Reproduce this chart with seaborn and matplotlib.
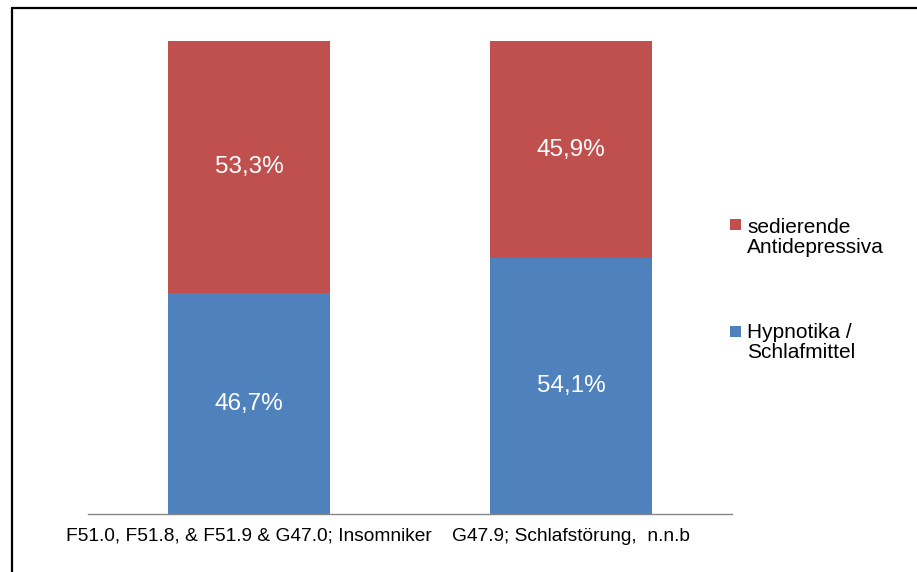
import pandas as pd
import seaborn as sns
import matplotlib.pyplot as plt
from matplotlib.lines import Line2D
from matplotlib.patches import Rectangle

# Data (percent of prescriptions)
categories = ["F51.0, F51.8, & F51.9 & G47.0; Insomniker", "G47.9; Schlafstörung,  n.n.b"]
hypnotika = [46.7, 54.1]
antidepressiva = [53.3, 45.9]
series_names = ["sedierende\nAntidepressiva", "Hypnotika /\nSchlafmittel"]

red = "#C0504D"
blue = "#4F81BD"

df = pd.DataFrame({"Kategorie": categories, "Hypnotika": hypnotika, "Antidepressiva": antidepressiva})
df["Gesamt"] = df["Hypnotika"] + df["Antidepressiva"]

sns.set_style("white")
plt.rcParams["font.family"] = ["Liberation Sans", "DejaVu Sans"]

W, H = 917, 572
fig = plt.figure(figsize=(W / 100, H / 100), dpi=100)
ax = fig.add_axes([88 / W, 1 - 514 / H, 644 / W, 473 / H])

# stacked bars: full height in red, blue part drawn over it
sns.barplot(data=df, x="Kategorie", y="Gesamt", color=red, saturation=1, width=0.503, linewidth=0, ax=ax)
sns.barplot(data=df, x="Kategorie", y="Hypnotika", color=blue, saturation=1, width=0.503, linewidth=0, ax=ax)

# percentage labels in the middle of each segment
for i, row in df.iterrows():
    ax.text(i, row["Hypnotika"] / 2, f"{row['Hypnotika']:.1f}%".replace(".", ","),
            ha="center", va="center", color="white", fontsize=17.5)
    ax.text(i, row["Hypnotika"] + row["Antidepressiva"] / 2, f"{row['Antidepressiva']:.1f}%".replace(".", ","),
            ha="center", va="center", color="white", fontsize=17.5)

ax.set_xlim(-0.5, 1.5)
ax.set_ylim(0, 100)
ax.set_xlabel("")
ax.set_ylabel("")
ax.set_yticks([])
for side in ["left", "right", "top"]:
    ax.spines[side].set_visible(False)
ax.spines["bottom"].set_color("#868686")
ax.spines["bottom"].set_linewidth(1)
ax.tick_params(axis="x", length=0, pad=10, labelsize=13.8, colors="black")

# legend drawn by hand: square next to the first line of each two-line label
square_tops = [219.5, 326.0]
last_baselines = [253.3, 358.3]
for name, col, top, base in zip(series_names, [red, blue], square_tops, last_baselines):
    fig.patches.append(Rectangle((730 / W, 1 - (top + 11) / H), 11 / W, 11 / H,
                                 transform=fig.transFigure, facecolor=col, edgecolor="none"))
    fig.text(747 / W, 1 - base / H, name, va="baseline", ha="left", fontsize=15,
             linespacing=1.08, color="black")

# outer frame (only top and left edges visible in the original)
fig.add_artist(Line2D([12 / W, 1], [1 - 7.5 / H, 1 - 7.5 / H], color="black", linewidth=1.6))
fig.add_artist(Line2D([12 / W, 12 / W], [0, 1 - 7.5 / H], color="black", linewidth=1.6))

fig.savefig("out.png", dpi=100)
